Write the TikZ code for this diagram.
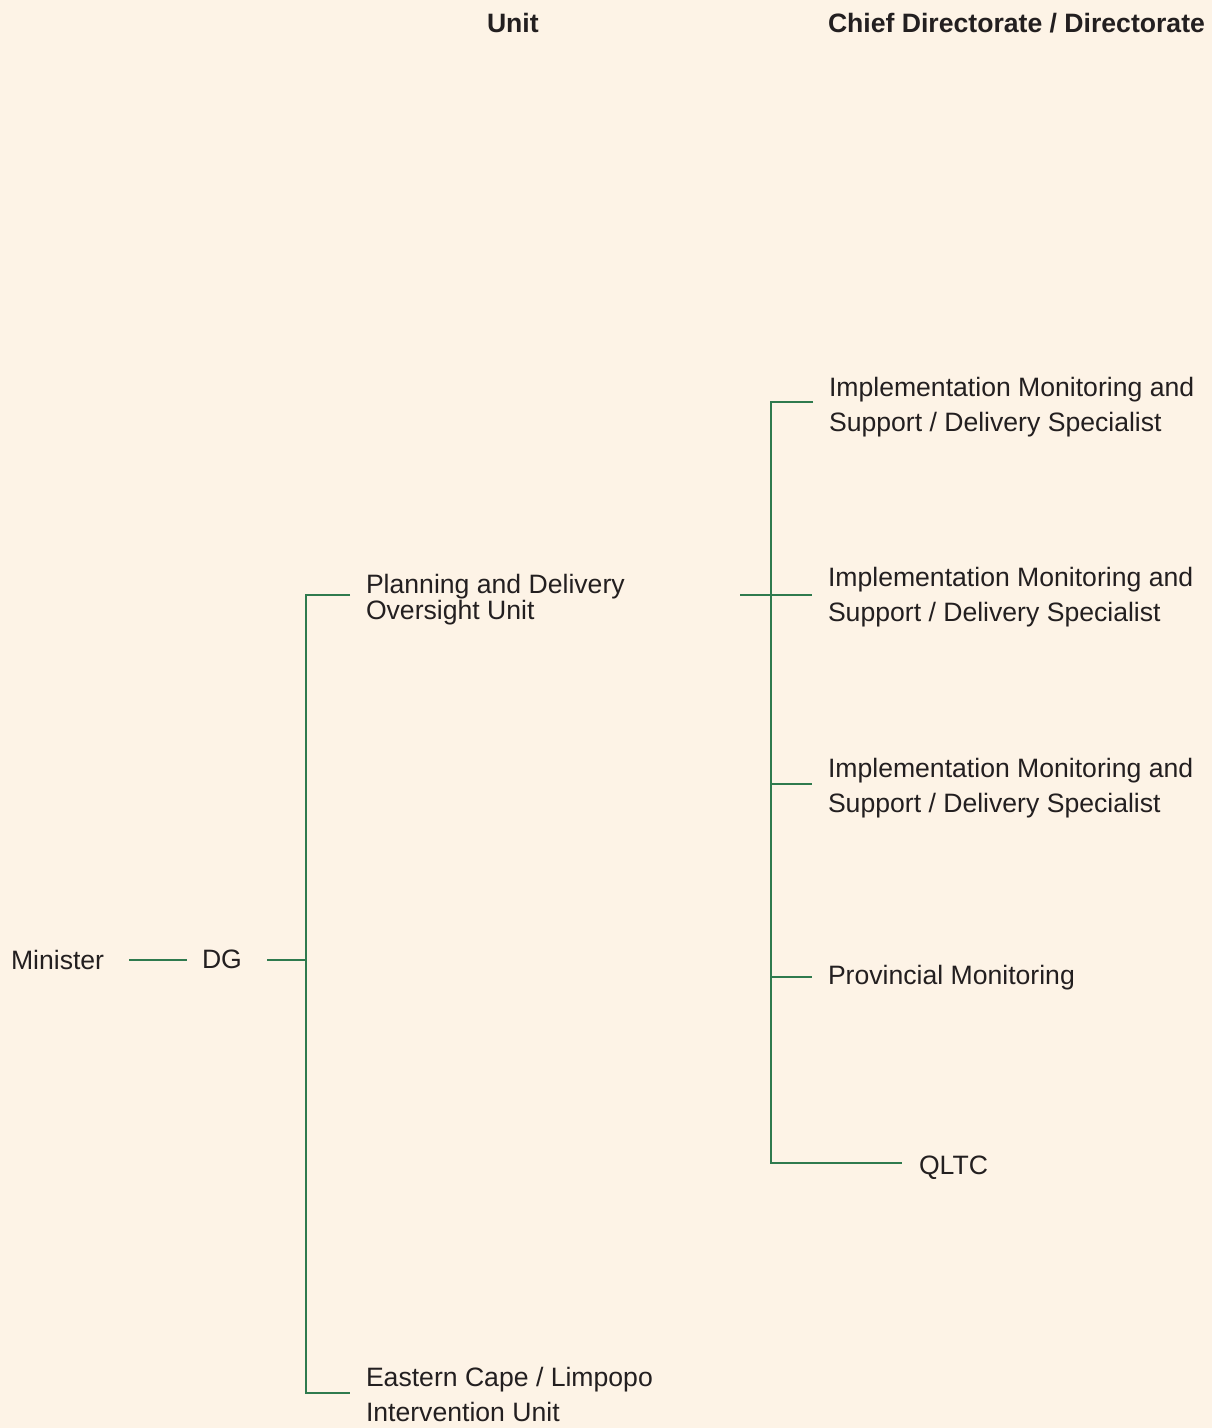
\documentclass[tikz,border=0pt]{standalone}
\usepackage{fontspec}
\setmainfont{Liberation Sans}
\definecolor{bg}{HTML}{FDF3E6}
\definecolor{ln}{HTML}{2F7A4E}
\definecolor{tx}{HTML}{231F20}
\begin{document}
\begin{tikzpicture}[x=1pt,y=-1pt,
  lbl/.style={anchor=base west,inner sep=0pt,outer sep=0pt,text=tx,font=\fontsize{26.6}{35}\selectfont},
  hdr/.style={lbl,font=\fontsize{26.6}{35}\selectfont\bfseries},
  conn/.style={draw=ln,line width=1.3pt}]
\path[fill=bg,use as bounding box] (0,0) rectangle (1212,1428);
% headers
\node[hdr] (hunit) at (487,32) {Unit};
\node[hdr] (hchief) at (828,32) {Chief Directorate / Directorate};
% nodes
\node[lbl] (mn) at (11,969) {Minister};
\node[lbl] (dg) at (202,968) {DG};
\node[lbl] (pl) at (366,593) {\fontsize{26.6}{25.5}\selectfont\begin{tabular}[t]{@{}l@{}}Planning and Delivery\\Oversight Unit\end{tabular}};
\node[lbl] (ec) at (366,1386) {\begin{tabular}[t]{@{}l@{}}Eastern Cape / Limpopo\\Intervention Unit\end{tabular}};
\node[lbl] (im1) at (829,396) {\begin{tabular}[t]{@{}l@{}}Implementation Monitoring and\\Support / Delivery Specialist\end{tabular}};
\node[lbl] (im2) at (828,586) {\begin{tabular}[t]{@{}l@{}}Implementation Monitoring and\\Support / Delivery Specialist\end{tabular}};
\node[lbl] (im3) at (828,777) {\begin{tabular}[t]{@{}l@{}}Implementation Monitoring and\\Support / Delivery Specialist\end{tabular}};
\node[lbl] (pm) at (828,984) {Provincial Monitoring};
\node[lbl] (ql) at (919,1174) {QLTC};
% connector end points
\coordinate (mnR) at (129,960);
\coordinate (dgL) at (187,960);
\coordinate (dgR) at (267,960);
\coordinate (b1) at (306,960);
\coordinate (b1t) at (306,595);
\coordinate (b1b) at (306,1393);
\coordinate (plL) at (350,595);
\coordinate (ecL) at (350,1393);
\coordinate (plR) at (740,595);
\coordinate (b2) at (771,595);
\coordinate (b2t) at (771,402);
\coordinate (b2b) at (771,1163);
\coordinate (im1L) at (813,402);
\coordinate (im2L) at (812,595);
\coordinate (im3L) at (812,784);
\coordinate (pmL) at (812,977);
\coordinate (qlL) at (902,1163);
% connectors
\draw[conn] (mnR) -- (dgL);
\draw[conn] (dgR) -- (b1);
\draw[conn] (plL) -- (b1t) -- (b1b) -- (ecL);
\draw[conn] (plR) -- (im2L);
\draw[conn] (im1L) -- (b2t) -- (b2b) -- (qlL);
\draw[conn] (b2 |- im3L) -- (im3L);
\draw[conn] (b2 |- pmL) -- (pmL);
\end{tikzpicture}
\end{document}
